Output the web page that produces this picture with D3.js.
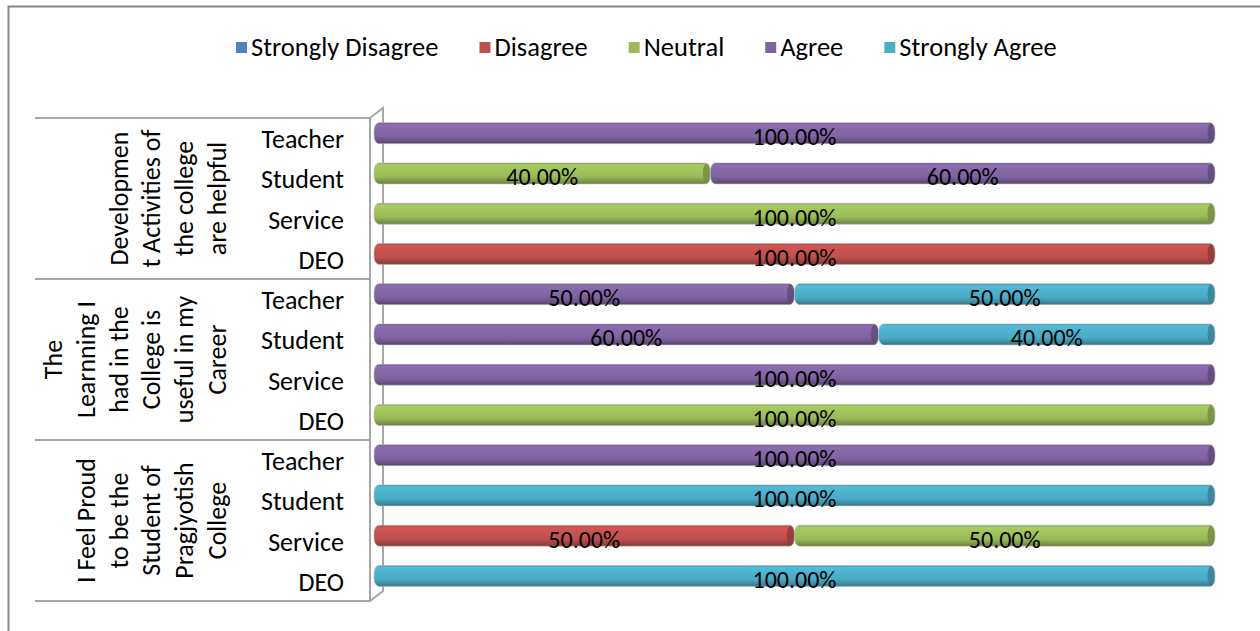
<!DOCTYPE html>
<html>
<head>
<meta charset="utf-8">
<script src="https://cdn.jsdelivr.net/npm/d3@7"></script>
<style>
  body { margin: 0; background: #fff; }
  svg text { font-family: Carlito, Lato, "Liberation Sans", sans-serif; fill: #000; }
</style>
</head>
<body>
<div id="chart"></div>
<script>
// categories, top to bottom
var groupLines = [
  ["Developmen", "t Activities of", "the college", "are helpful"],
  ["The", "Learnning I", "had in the", "College is", "useful in my", "Career"],
  ["I Feel Proud", "to be the", "Student of", "Pragjyotish", "College"]
];
var roles = ["Teacher", "Student", "Service", "DEO"];
var seriesNames = ["Strongly Disagree", "Disagree", "Neutral", "Agree", "Strongly Agree"];
var seriesColors = ["#4f81bd", "#c0504d", "#9bbb59", "#8064a2", "#4bacc6"];

// series values, one per row (group x role)
var stronglyDisagree = [0, 0, 0, 0,    0, 0, 0, 0,      0, 0, 0, 0];
var disagree         = [0, 0, 0, 1,    0, 0, 0, 0,      0, 0, 0.5, 0];
var neutral          = [0, 0.4, 1, 0,  0, 0, 0, 1,      0, 0, 0.5, 0];
var agree            = [1, 0.6, 0, 0,  0.5, 0.6, 1, 0,  1, 0, 0, 0];
var stronglyAgree    = [0, 0, 0, 0,    0.5, 0.4, 0, 0,  0, 1, 0, 1];

var seriesValues = [stronglyDisagree, disagree, neutral, agree, stronglyAgree];

var width = 1260, height = 631;

var rows = [];
groupLines.forEach(function(g, gi) {
  roles.forEach(function(r, ri) {
    var i = gi * roles.length + ri;
    var row = { id: gi + "-" + r, group: gi, role: r };
    seriesNames.forEach(function(s, si) { row[s] = seriesValues[si][i]; });
    rows.push(row);
  });
});

var svg = d3.select('#chart').append('svg')
  .attr('width', width)
  .attr('height', height);

// chart border (runs off right/bottom like the original)
svg.append('rect')
  .attr('x', 8.5).attr('y', 6.5)
  .attr('width', 1400).attr('height', 800)
  .attr('fill', 'none')
  .attr('stroke', '#868686')
  .attr('stroke-width', 2);

var plotTop = 118, plotBottom = 601, frontX = 370, depth = 13, depthY = 10;

var y = d3.scaleBand()
  .domain(rows.map(function(d) { return d.id; }))
  .range([plotTop, plotBottom]);

var yGroup = d3.scaleBand()
  .domain(d3.range(groupLines.length))
  .range([plotTop, plotBottom]);

var x = d3.scaleLinear().domain([0, 1]).range([374, 1215]);

var barH = 21, barShift = -5;

// gradients for cylinder look
var defs = svg.append('defs');
seriesColors.forEach(function(c, i) {
  var base = d3.color(c);
  var g = defs.append('linearGradient')
    .attr('id', 'grad' + i)
    .attr('x1', 0).attr('y1', 0).attr('x2', 0).attr('y2', 1);
  var stops = [
    [0, base.darker(0.5)],
    [0.1, base.brighter(0.25)],
    [0.35, base.brighter(0.1)],
    [0.65, base],
    [0.88, base.darker(0.6)],
    [1, base.darker(1.1)]
  ];
  stops.forEach(function(s) {
    g.append('stop').attr('offset', s[0]).attr('stop-color', s[1].formatHex());
  });
});

// wall / axis lines
var wall = svg.append('g')
  .attr('fill', 'none')
  .attr('stroke', '#a6a6a6')
  .attr('stroke-width', 2);

wall.append('path')
  .attr('d', d3.line()([[35, plotTop], [frontX, plotTop], [frontX + depth, plotTop - depthY],
    [frontX + depth, plotBottom - depthY], [frontX, plotBottom], [35, plotBottom]]));
wall.append('line')
  .attr('x1', frontX).attr('x2', frontX).attr('y1', plotTop).attr('y2', plotBottom);

// group separators
wall.selectAll('.sep')
  .data(d3.range(1, groupLines.length))
  .enter().append('line')
  .attr('x1', 35).attr('x2', frontX)
  .attr('y1', function(d) { return yGroup(d); })
  .attr('y2', function(d) { return yGroup(d); });

// role labels
svg.append('g').selectAll('text')
  .data(rows)
  .enter().append('text')
  .attr('x', 344)
  .attr('y', function(d) { return y(d.id) + y.bandwidth() / 2 + 10; })
  .attr('text-anchor', 'end')
  .style('font-size', '26px')
  .text(function(d) { return d.role; });

// group labels (rotated)
var lineStep = 32.8, lastLineX = 217;
groupLines.forEach(function(lines, gi) {
  var cy = yGroup(gi) + yGroup.bandwidth() / 2;
  lines.forEach(function(l, li) {
    var cx = lastLineX - (lines.length - 1 - li) * lineStep;
    svg.append('text')
      .attr('transform', 'translate(' + (cx + 9) + ',' + cy + ') rotate(-90)')
      .attr('text-anchor', 'middle')
      .style('font-size', '26px')
      .text(l);
  });
});

// stacked bars
var stack = d3.stack().keys(seriesNames);
var stacked = stack(rows);

var bars = svg.append('g');
stacked.forEach(function(layer, si) {
  layer.forEach(function(seg) {
    if (seg[1] - seg[0] <= 0) return;
    var d = seg.data;
    var cy = y(d.id) + y.bandwidth() / 2 + barShift;
    var x0 = x(seg[0]), x1 = x(seg[1]);
    var g = bars.append('g');
    g.append('rect')
      .attr('x', x0).attr('y', cy - barH / 2)
      .attr('width', x1 - x0).attr('height', barH)
      .attr('rx', 5).attr('ry', 8)
      .attr('fill', 'url(#grad' + si + ')')
      .attr('stroke', '#bdbdbd')
      .attr('stroke-width', 0.6);
    g.append('ellipse')
      .attr('cx', x1 - 4).attr('cy', cy)
      .attr('rx', 3.5).attr('ry', barH / 2 - 0.5)
      .attr('fill', d3.color(seriesColors[si]).darker(0.8).formatHex())
      .attr('opacity', 0.85);
  });
});

// value labels
var labels = svg.append('g');
stacked.forEach(function(layer) {
  layer.forEach(function(seg) {
    var v = seg[1] - seg[0];
    if (v <= 0) return;
    var d = seg.data;
    var cy = y(d.id) + y.bandwidth() / 2 + barShift;
    labels.append('text')
      .attr('x', (x(seg[0]) + x(seg[1])) / 2)
      .attr('y', cy + 12)
      .attr('text-anchor', 'middle')
      .style('font-size', '24px')
      .text(d3.format('.2%')(v));
  });
});

// legend
var legend = svg.append('g');
var lx = 236, ly = 42;
seriesNames.forEach(function(s, i) {
  legend.append('rect')
    .attr('x', lx).attr('y', ly)
    .attr('width', 11).attr('height', 11)
    .attr('fill', seriesColors[i]);
  var t = legend.append('text')
    .attr('x', lx + 15).attr('y', ly + 14)
    .style('font-size', '26.5px')
    .text(s);
  lx += 15 + t.node().getComputedTextLength() + 41;
});
</script>
</body>
</html>
